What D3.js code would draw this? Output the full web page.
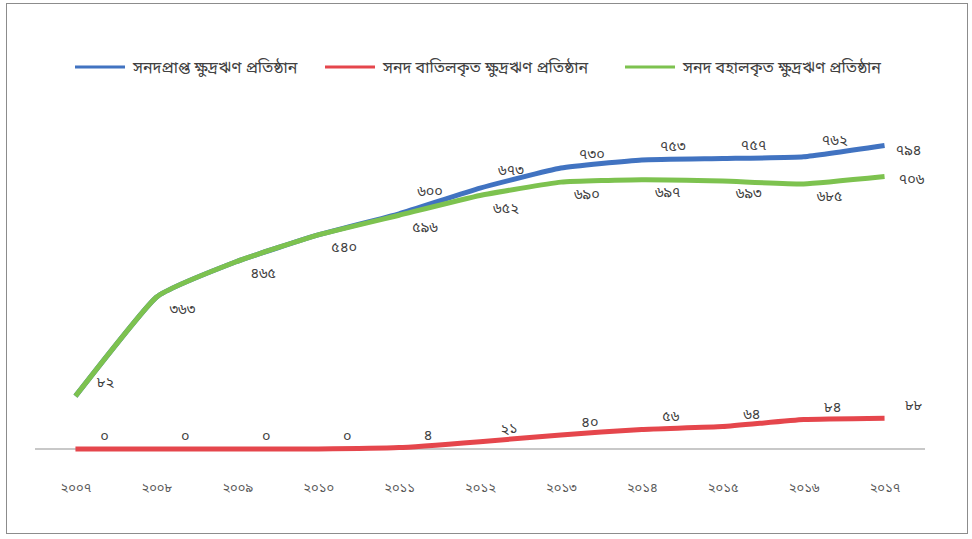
<!DOCTYPE html>
<html>
<head>
<meta charset="utf-8">
<script src="https://cdn.jsdelivr.net/npm/d3@7"></script>
<style>
  html, body { margin: 0; padding: 0; background: #fff; }
  svg { display: block; }
  text { font-family: "Noto Sans Bengali", "Lohit Bengali", "Noto Sans", "DejaVu Sans", sans-serif; }
</style>
</head>
<body>
<svg id="chart" width="972" height="539"></svg>
<script>
const years = ["২০০৭","২০০৮","২০০৯","২০১০","২০১১","২০১২","২০১৩","২০১৪","২০১৫","২০১৬","২০১৭"];
const licensed  = [82, 363, 465, 540, 600, 673, 730, 753, 757, 762, 794];
const cancelled = [0, 0, 0, 0, 4, 21, 40, 56, 64, 84, 88];
const retained  = [82, 363, 465, 540, 596, 652, 690, 697, 693, 685, 706];
const seriesNames = ["সনদপ্রাপ্ত ক্ষুদ্রঋণ প্রতিষ্ঠান", "সনদ বাতিলকৃত ক্ষুদ্রঋণ প্রতিষ্ঠান", "সনদ বহালকৃত ক্ষুদ্রঋণ প্রতিষ্ঠান"];
const colors = ["#4173C1", "#E5464C", "#7DC24F"];

const toBn = n => String(n).replace(/[0-9]/g, d => "০১২৩৪৫৬৭৮৯"[+d]);

const svg = d3.select("#chart");
svg.append("rect").attr("x", 6.5).attr("y", 3.5).attr("width", 961).attr("height", 530)
  .attr("fill", "#fff").attr("stroke", "#8c8c8c").attr("stroke-width", 1);

const x = d3.scalePoint().domain(years).range([35, 925]).padding(0.5);
const y = d3.scaleLinear().domain([0, 800]).range([425, 143.4]);
const yR = d3.scaleLinear().domain([0, 100]).range([449, 414]);

// category axis
const axis = d3.axisBottom(x).tickSize(0).tickPadding(0);
const gx = svg.append("g").attr("transform", "translate(0,449)").call(axis);
gx.select(".domain").attr("stroke", "#c8c8c8").attr("stroke-width", 2).attr("d", "M35,0H925");
gx.selectAll("text").attr("y", 38).attr("dy", "0.35em").attr("font-size", 13).attr("fill", "#595959");

const line = s => d3.line().x((d, i) => x(years[i])).y(d => s(d)).curve(d3.curveCardinal.tension(0.6));

const series = [
  {vals: licensed, scale: y, color: colors[0]},
  {vals: cancelled, scale: yR, color: colors[1]},
  {vals: retained, scale: y, color: colors[2]}
];
series.forEach(s => {
  svg.append("path").datum(s.vals).attr("d", line(s.scale))
    .attr("fill", "none").attr("stroke", s.color).attr("stroke-width", 5)
    .attr("stroke-linecap", "butt").attr("stroke-linejoin", "round");
});

// data labels
const lab = svg.append("g").attr("font-size", 14.5).attr("fill", "#404040").attr("text-anchor", "middle");
licensed.forEach((v, i) => {
  if (i < 4) return;
  const last = i === years.length - 1;
  const dy = last ? 4 : (i === 4 ? -23 : i === 5 ? -18 : i === 9 ? -17 : -14);
  lab.append("text").attr("x", x(years[i]) + (last ? 24 : 31))
    .attr("y", y(v) + dy).attr("dy", "0.35em").text(toBn(v));
});
retained.forEach((v, i) => {
  const last = i === years.length - 1;
  const first = i === 0;
  lab.append("text").attr("x", x(years[i]) + (first ? 30 : last ? 27 : 26))
    .attr("y", y(v) + (first ? -14 : last ? 2 : 12)).attr("dy", "0.35em").text(toBn(v));
});
cancelled.forEach((v, i) => {
  lab.append("text").attr("x", x(years[i]) + 29)
    .attr("y", yR(v) - 13).attr("dy", "0.35em").text(toBn(v));
});

// legend
const legX = [75, 325, 625];
const leg = svg.append("g");
seriesNames.forEach((n, i) => {
  leg.append("line").attr("x1", legX[i]).attr("x2", legX[i] + 50).attr("y1", 67).attr("y2", 67)
    .attr("stroke", colors[i]).attr("stroke-width", 3);
  leg.append("text").attr("x", legX[i] + 58).attr("y", 67).attr("dy", "0.35em")
    .attr("font-size", 16).attr("fill", "#404040").text(n);
});
</script>
</body>
</html>
